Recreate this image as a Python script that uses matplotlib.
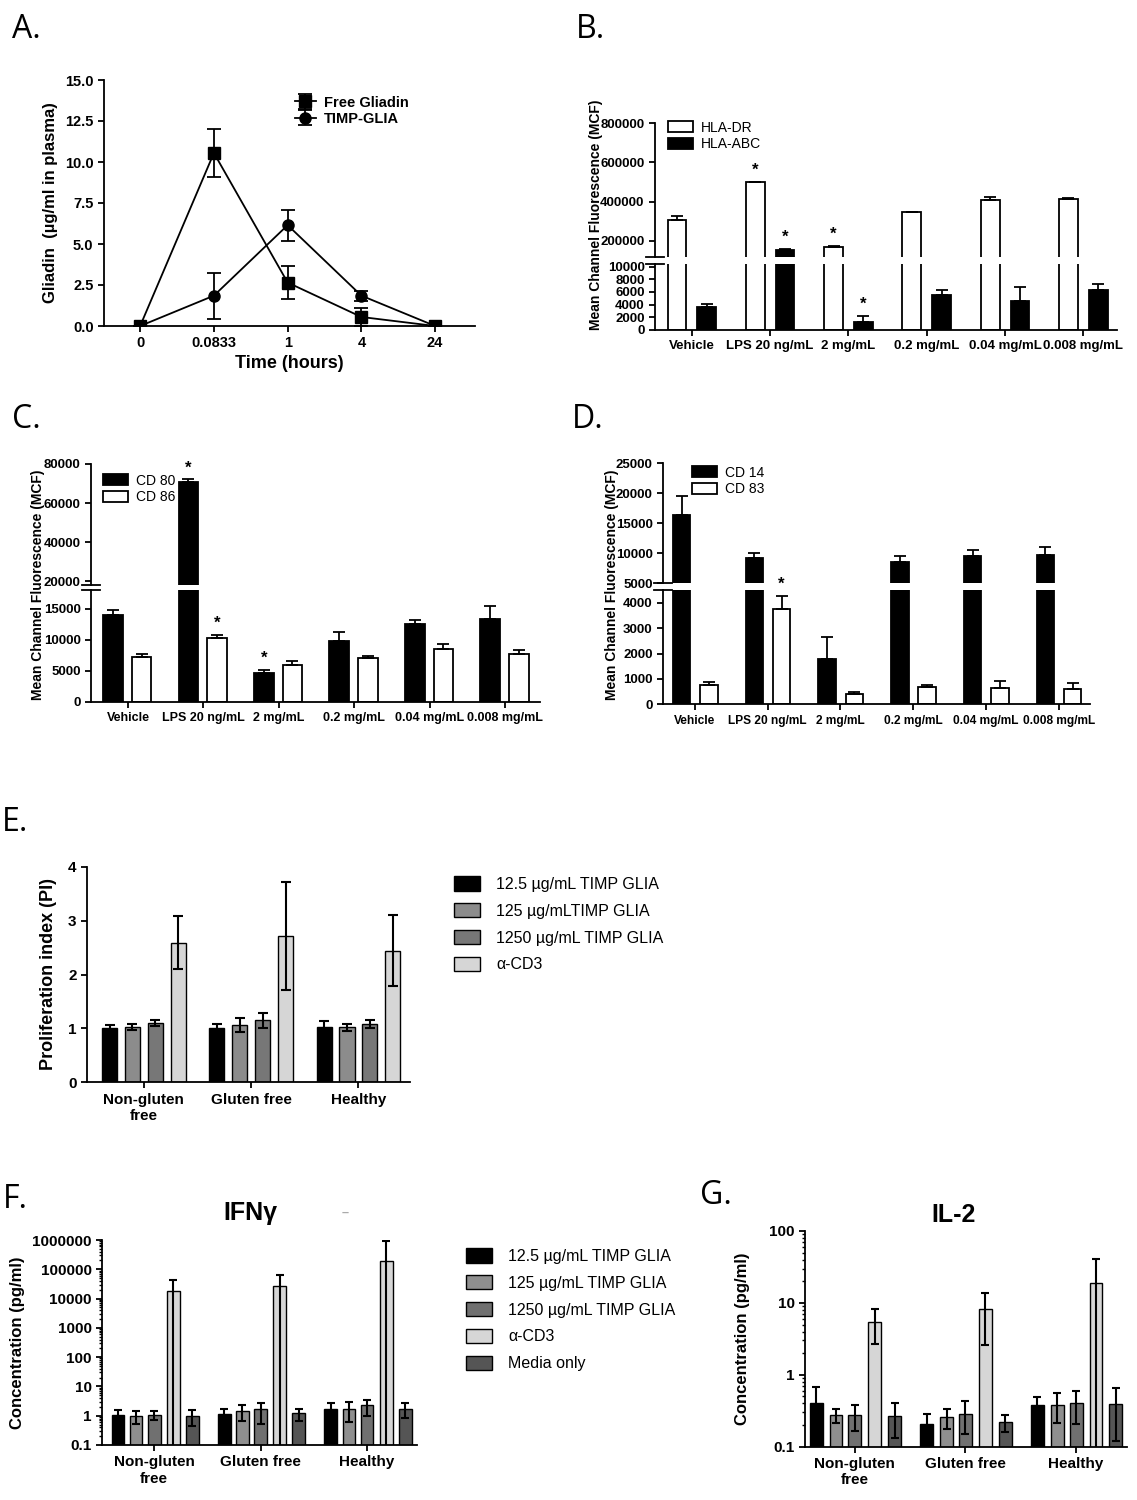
import numpy as np
import matplotlib.pyplot as plt
from matplotlib.patches import Patch

plt.rcParams['font.family'] = ['Liberation Sans', 'DejaVu Sans']
plt.rcParams['font.weight'] = 'bold'
plt.rcParams['axes.labelweight'] = 'bold'
plt.rcParams['axes.linewidth'] = 1.3
plt.rcParams['xtick.major.width'] = 1.3
plt.rcParams['ytick.major.width'] = 1.3

# -----------------------------
# A. plasma gliadin
time_labels = ['0', '0.0833', '1', '4', '24']
free_gliadin = [0, 10.55, 2.65, 0.55, 0]
free_gliadin_err = [0, 1.45, 1.0, 0.55, 0]
timp_glia = [0, 1.85, 6.15, 1.85, 0]
timp_glia_err = [0, 1.4, 0.95, 0.3, 0]

# B-D. surface markers
conditions = ['Vehicle', 'LPS 20 ng/mL', '2 mg/mL', '0.2 mg/mL', '0.04 mg/mL', '0.008 mg/mL']
hla_dr = [304000, 499000, 170000, 346000, 409000, 414000]
hla_dr_err = [24000, 3000, 3000, 2000, 13000, 4000]
hla_abc = [3580, 153000, 1260, 5520, 4630, 6310]
hla_abc_err = [470, 3000, 1000, 840, 2100, 950]
b_stars = [(1, 0), (1, 1), (2, 0), (2, 1)]

cd80 = [14035, 70940, 4550, 9790, 12470, 13330]
cd80_err = [800, 1150, 540, 1450, 640, 2030]
cd86 = [7210, 10270, 5840, 7000, 8450, 7700]
cd86_err = [540, 430, 640, 370, 800, 590]
c_stars = [(1, 0), (1, 1), (2, 0)]

cd14 = [16290, 9100, 1790, 8430, 9440, 9660]
cd14_err = [3200, 840, 840, 1010, 1070, 1290]
cd83 = [760, 3750, 405, 667, 654, 601]
cd83_err = [105, 510, 65, 90, 275, 250]
d_stars = [(1, 1)]

# E-G. T cell assays
cohorts = ['Non-gluten\nfree', 'Gluten free', 'Healthy']
e_labels = ['12.5 \u00b5g/mL TIMP GLIA', '125 \u00b5g/mLTIMP GLIA',
            '1250 \u00b5g/mL TIMP GLIA', '\u03b1-CD3']
e_vals = [[1.01, 1.01, 1.03], [1.03, 1.06, 1.02], [1.10, 1.15, 1.08], [2.59, 2.72, 2.44]]
e_errs = [[0.06, 0.08, 0.10], [0.06, 0.13, 0.07], [0.06, 0.14, 0.07], [0.49, 1.0, 0.66]]

cyto_labels = ['12.5 \u00b5g/mL TIMP GLIA', '125 \u00b5g/mL TIMP GLIA',
               '1250 \u00b5g/mL TIMP GLIA', '\u03b1-CD3', 'Media only']
ifng_vals = [[1.05, 1.17, 1.69], [1.0, 1.48, 1.73], [1.05, 1.64, 2.25],
             [18200, 26900, 197000], [1.0, 1.2, 1.73]]
ifng_errs = [[0.5, 0.56, 0.95], [0.48, 0.8, 1.1], [0.35, 1.1, 1.25],
             [24000, 39000, 700000], [0.55, 0.55, 0.9]]
il2_vals = [[0.41, 0.207, 0.38], [0.276, 0.256, 0.384], [0.276, 0.288, 0.40],
            [5.48, 8.13, 18.7], [0.267, 0.218, 0.39]]
il2_errs = [[0.26, 0.075, 0.115], [0.06, 0.08, 0.17], [0.11, 0.14, 0.19],
            [2.8, 5.5, 21.7], [0.135, 0.06, 0.27]]
# -----------------------------

W, H = 1137, 1500
fig = plt.figure(figsize=(W / 100, H / 100), dpi=100)


def box(l, t, r, b):
    return [l / W, 1 - b / H, (r - l) / W, (b - t) / H]


def style(ax, size=9):
    ax.spines['top'].set_visible(False)
    ax.spines['right'].set_visible(False)
    ax.tick_params(direction='out', length=4, labelsize=size)


def panel_label(x, y, s):
    fig.text(x / W, 1 - y / H, s, fontsize=23, fontweight='normal',
             family='Open Sans', ha='left', va='center')


# ---------- A ----------
ax = fig.add_axes(box(104, 80, 475, 326))
style(ax, 10.5)
x = np.arange(len(time_labels))
ax.errorbar(x, free_gliadin, yerr=free_gliadin_err, color='black', marker='s', ms=8,
            lw=1.3, capsize=5, capthick=1.3, label='Free Gliadin')
ax.errorbar(x, timp_glia, yerr=timp_glia_err, color='black', marker='o', ms=8,
            lw=1.3, capsize=5, capthick=1.3, label='TIMP-GLIA')
ax.set_xlim(-0.49, 4.54)
ax.set_ylim(0, 15)
ax.set_yticks(np.arange(0, 15.1, 2.5))
ax.set_yticklabels([f'{v:.1f}' for v in np.arange(0, 15.1, 2.5)])
ax.set_xticks(x)
ax.set_xticklabels(time_labels)
ax.set_xlabel('Time (hours)', fontsize=13, labelpad=3)
ax.set_ylabel('Gliadin  (\u00b5g/ml in plasma)', fontsize=12, labelpad=5)
ax.legend(loc='upper left', bbox_to_anchor=(0.48, 0.99), frameon=False,
          fontsize=10.5, handlelength=1.4, handletextpad=0.6, labelspacing=0.15)
panel_label(12, 30, 'A.')


# ---------- B-D broken-axis bar charts ----------
def broken_bars(left, right, top_px, bottom_px, top_lim, bot_lim, top_ticks, bot_ticks,
                series, errs, fills, offsets, width, xlim, stars, ylabel_x, ylabel_y,
                legend_labels, legend_anchor, ticksize=9.5, xticksize=9.5):
    ax_t = fig.add_axes(box(left, top_px[0], right, top_px[1]))
    ax_b = fig.add_axes(box(left, bottom_px[0], right, bottom_px[1]))
    xg = np.arange(len(conditions))
    for a in (ax_t, ax_b):
        style(a, ticksize)
        for vals, err, fc, off in zip(series, errs, fills, offsets):
            a.bar(xg + off, vals, width=width, color=fc, edgecolor='black', linewidth=1.3)
            a.errorbar(xg + off, vals, yerr=[np.zeros(len(vals)), err], fmt='none',
                       ecolor='black', elinewidth=1.3, capsize=4, capthick=1.3)
        a.set_xlim(*xlim)
    ax_t.set_ylim(*top_lim)
    ax_b.set_ylim(*bot_lim)
    ax_t.set_yticks(top_ticks)
    ax_b.set_yticks(bot_ticks)
    ax_t.spines['bottom'].set_visible(False)
    ax_t.set_xticks([])
    ax_b.spines['top'].set_visible(False)
    ax_b.set_xticks(xg)
    ax_b.set_xticklabels(conditions, fontsize=xticksize)
    for a, yy in ((ax_t, 0), (ax_b, 1)):
        a.plot([-0.02, 0.02], [yy, yy], transform=a.transAxes, color='black',
               lw=1.3, clip_on=False)
    for gi, si in stars:
        top = series[si][gi] + errs[si][gi]
        a = ax_t if top > bot_lim[1] else ax_b
        a.annotate('*', xy=(gi + offsets[si], top), xytext=(0, 3), textcoords='offset points',
                   ha='center', va='bottom', fontsize=12)
    fig.text(ylabel_x / W, 1 - ylabel_y / H, 'Mean Channel Fluorescence (MCF)', rotation=90,
             ha='center', va='center', fontsize=10, fontweight='bold')
    handles = [Patch(facecolor=fc, edgecolor='black', linewidth=1.3) for fc in fills]
    ax_t.legend(handles, legend_labels, loc='upper left', bbox_to_anchor=legend_anchor,
                bbox_transform=fig.transFigure, frameon=False,
                prop={'weight': 'normal', 'size': 10}, handlelength=1.8, handleheight=0.8,
                handletextpad=0.6, labelspacing=0.2, borderaxespad=0)
    return ax_t, ax_b


broken_bars(655, 1117, (123.3, 256.7), (263.5, 330), (118000, 800000), (0, 10500),
            np.arange(200000, 800001, 200000), np.arange(0, 10001, 2000),
            [hla_dr, hla_abc], [hla_dr_err, hla_abc_err], ['white', 'black'],
            [-0.19, 0.19], 0.24, (-0.47, 5.43), b_stars, 596, 215,
            ['HLA-DR', 'HLA-ABC'], (662 / W, 1 - 115 / H))
panel_label(576, 30, 'B.')

broken_bars(91, 540, (464, 585), (590, 701.7), (18000, 80000), (0, 18000),
            np.arange(20000, 80001, 20000), np.arange(0, 15001, 5000),
            [cd80, cd86], [cd80_err, cd86_err], ['black', 'white'],
            [-0.2, 0.18], 0.26, (-0.49, 5.46), c_stars, 38, 585,
            ['CD 80', 'CD 86'], (97 / W, 1 - 468 / H), xticksize=9)
panel_label(12, 420, 'C.')

broken_bars(663, 1090, (463.3, 583), (590, 704.3), (5000, 25000), (0, 4500),
            np.arange(5000, 25001, 5000), np.arange(0, 4001, 1000),
            [cd14, cd83], [cd14_err, cd83_err], ['black', 'white'],
            [-0.185, 0.19], 0.24, (-0.44, 5.43), d_stars, 612, 585,
            ['CD 14', 'CD 83'], (686 / W, 1 - 460 / H), xticksize=8.6)
panel_label(572, 420, 'D.')


# ---------- E ----------
e_colors = ['black', '#8c8c8c', '#777777', '#d6d6d6']
ax = fig.add_axes(box(87, 866.7, 410, 1082.3))
style(ax, 11)
xg = np.arange(len(cohorts))
e_offsets = [-0.32, -0.107, 0.107, 0.32]
for vals, err, fc, off in zip(e_vals, e_errs, e_colors, e_offsets):
    ax.bar(xg + off, vals, width=0.14, color=fc, edgecolor='black', linewidth=1.0)
    ax.errorbar(xg + off, vals, yerr=err, fmt='none', ecolor='black',
                elinewidth=1.5, capsize=3.5, capthick=1.5)
ax.set_xlim(-0.53, 2.48)
ax.set_ylim(0, 4)
ax.set_yticks([0, 1, 2, 3, 4])
ax.set_xticks(xg)
ax.set_xticklabels(cohorts, fontsize=11)
ax.set_ylabel('Proliferation index (PI)', fontsize=13, labelpad=8)
handles = [Patch(facecolor=c, edgecolor='black', linewidth=1.0) for c in e_colors]
ax.legend(handles, e_labels, loc='upper left', bbox_to_anchor=(448 / W, 1 - 870 / H),
          bbox_transform=fig.transFigure, frameon=False,
          prop={'weight': 'normal', 'size': 11.5}, handlelength=1.6, handleheight=1.0,
          handletextpad=1.0, labelspacing=0.7, borderaxespad=0)
panel_label(2, 822, 'E.')

# ---------- F & G ----------
cyto_colors = ['black', '#8f8f8f', '#707070', '#d6d6d6', '#555555']


def cyto_panel(rect, vals_all, errs_all, ylim, offsets, width, xlim, title, title_xy, pad):
    ax = fig.add_axes(box(*rect))
    style(ax, 11)
    xg = np.arange(len(cohorts))
    for vals, err, fc, off in zip(vals_all, errs_all, cyto_colors, offsets):
        vals = np.array(vals, dtype=float)
        err = np.array(err, dtype=float)
        lower = np.where(err >= vals, vals - 1e-9, err)
        ax.bar(xg + off, vals, width=width, color=fc, edgecolor='black', linewidth=1.0)
        ax.errorbar(xg + off, vals, yerr=[lower, err], fmt='none', ecolor='black',
                    elinewidth=1.5, capsize=3, capthick=1.5)
    ax.set_yscale('log')
    ax.set_ylim(*ylim)
    ax.set_xlim(*xlim)
    ticks = 10.0 ** np.arange(np.log10(ylim[0]), np.log10(ylim[1]) + 0.5)
    ax.set_yticks(ticks)
    ax.set_yticklabels([f'{t:g}' if t < 1 else f'{int(t)}' for t in ticks])
    ax.tick_params(axis='y', which='minor', length=2, width=1.0)
    ax.set_xticks(xg)
    ax.set_xticklabels(cohorts, fontsize=11)
    ax.set_ylabel('Concentration (pg/ml)', fontsize=12, labelpad=pad)
    fig.text(title_xy[0] / W, 1 - title_xy[1] / H, title, fontsize=18,
             fontweight='bold', ha='center', va='center')
    return ax


ax_f = cyto_panel((102, 1240, 417, 1445), ifng_vals, ifng_errs, (0.1, 1e6),
                  [-0.34, -0.17, 0.0, 0.18, 0.36], 0.12, (-0.49, 2.47), 'IFN\u03b3',
                  (250, 1213), 5)
fig.text(345 / W, 1 - 1213 / H, '\u2013', fontsize=9, color='#aaaaaa', ha='center', va='center')
handles = [Patch(facecolor=c, edgecolor='black', linewidth=1.0) for c in cyto_colors]
ax_f.legend(handles, cyto_labels, loc='upper left', bbox_to_anchor=(460 / W, 1 - 1242 / H),
            bbox_transform=fig.transFigure, frameon=False,
            prop={'weight': 'normal', 'size': 11.5}, handlelength=1.6, handleheight=1.0,
            handletextpad=1.0, labelspacing=0.7, borderaxespad=0)
panel_label(3, 1200, 'F.')

cyto_panel((805, 1231, 1127, 1446.7), il2_vals, il2_errs, (0.1, 100),
           [-0.35, -0.17, 0.0, 0.18, 0.36], 0.117, (-0.45, 2.46), 'IL-2', (954, 1215), 14)
panel_label(700, 1195, 'G.')

fig.savefig('out.png', dpi=100)
